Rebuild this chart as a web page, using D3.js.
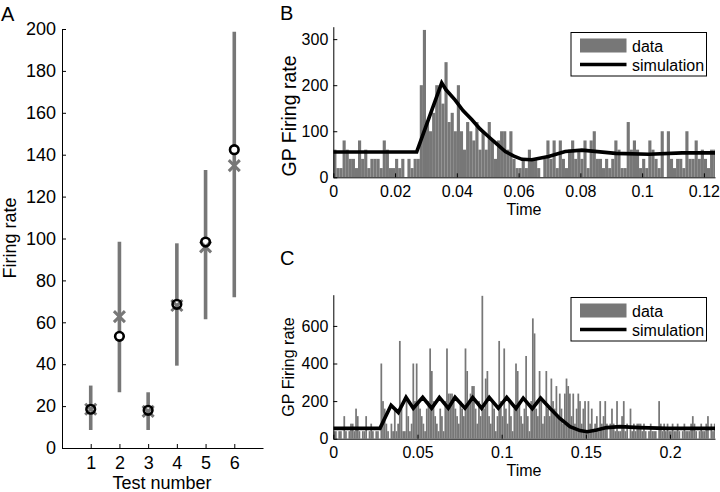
<!DOCTYPE html>
<html><head><meta charset="utf-8">
<script src="https://cdn.jsdelivr.net/npm/d3@7"></script>
<style>
body{margin:0;background:#fff;}
svg text{font-family:"Liberation Sans",Arial,Helvetica,sans-serif;fill:#000;}
</style></head>
<body><svg id="c" width="720" height="492"></svg>
<script>
// ---------- Panel A data ----------
const testNumbers = [1,2,3,4,5,6];
const simCircle = [18.5,53.3,18.0,68.6,98.3,142.4];
const dataCross = [18.5,62.7,17.5,68.0,96.0,134.8];
const errLow = [8.6,26.6,8.6,39.3,61.4,71.9];
const errHigh = [29.8,98.5,26.6,97.7,132.7,198.7];
const ticksAY = [0,20,40,60,80,100,120,140,160,180,200];

// ---------- Panel B data (1 ms bins) ----------
const binWidth = 0.001;
const histB = [60,20,20,80,60,40,40,20,80,40,60,20,40,40,40,20,80,60,20,20,
  40,20,40,0,40,20,40,40,200,320,120,100,140,200,200,160,250,120,140,100,
  200,100,60,120,100,80,120,60,100,60,120,80,40,80,100,100,60,100,40,20,
  20,40,20,60,40,40,20,0,40,80,40,80,20,80,40,20,60,80,40,60,
  40,80,20,80,100,40,40,20,40,20,40,80,60,20,20,120,60,80,60,20,
  40,20,80,60,40,20,100,0,100,40,20,40,40,20,100,40,40,80,40,60,
  40,20,60,60];
const simBt = [0,0.027,0.0351,0.0365,0.0394,0.042,0.0449,0.0475,0.0503,0.053,0.0557,0.0585,0.0611,0.0643,0.0697,0.0751,0.0805,0.0914,0.1022,0.113,0.1236];
const simBv = [55,55,205,190,168,145,125,105,88,72,56,46,39,38,45,56,59,52,50,53,53];
const ticksBX = [0,0.02,0.04,0.06,0.08,0.1,0.12];
const ticksBY = [0,100,200,300];

// ---------- Panel C data (1 ms bins) ----------
const histC = [40,40,0,40,40,0,120,40,0,40,80,80,40,160,120,40,0,40,40,120,
  0,40,80,40,0,40,40,0,400,200,160,80,40,0,80,40,160,40,80,520,
  160,40,40,200,120,40,80,400,200,400,200,160,120,80,40,160,200,480,360,200,
  120,80,40,160,120,40,200,480,240,240,240,200,160,120,80,200,160,120,480,360,
  200,240,280,280,160,80,200,120,760,160,320,360,120,80,200,160,40,120,520,200,
  120,480,160,80,200,120,40,160,400,360,200,120,80,160,440,120,40,200,640,560,
  160,120,360,200,80,120,360,160,120,320,200,160,280,120,240,160,80,240,320,280,
  240,120,240,80,160,240,200,80,160,200,40,200,80,160,40,80,120,40,200,80,
  120,200,80,0,80,160,80,40,200,40,40,120,200,40,80,0,160,40,80,40,
  80,80,80,40,80,40,0,40,80,40,40,40,0,200,80,40,80,40,80,40,
  40,80,40,40,80,40,0,40,80,40,40,40,80,120,80,40,0,40,80,40,
  40,80,120,0,80,40,80];
const simCt = [0,0.0277,0.0343,0.0386,0.0432,0.0475,0.0531,0.0584,0.063,0.0683,0.0723,0.0782,0.0828,0.0881,0.0926,0.098,0.103,0.1085,0.1128,0.1182,0.1231,0.1287,0.1346,0.1406,0.1465,0.1508,0.1564,0.1623,0.1702,0.182,0.198,0.2267];
const simCv = [55,55,178,140,220,162,220,162,220,162,220,162,220,162,220,162,220,160,216,160,216,162,108,64,43,37,46,59,64,59,55,55];
const ticksCX = [0,0.05,0.1,0.15,0.2];
const ticksCY = [0,200,400,600];

const legendLabels = ["data","simulation"];
const GRAY = "#777777";
const svg = d3.select("#c");
const FS = 16;
const FSA = 18;

function fmt(v){ return String(v); }

// ---------- Panel A ----------
(function(){
  const x = d3.scaleLinear().domain([0,7]).range([62,263]);
  const y = d3.scaleLinear().domain([0,200]).range([448,29]);
  const g = svg.append("g");
  const ax = g.append("g").attr("transform","translate(0,448)")
    .call(d3.axisBottom(x).tickValues(testNumbers).tickFormat(d3.format("d")).tickSize(-4).tickSizeOuter(0).tickPadding(8));
  const ay = g.append("g").attr("transform","translate(62,0)")
    .call(d3.axisLeft(y).tickValues(ticksAY).tickFormat(d3.format("d")).tickSize(-4).tickSizeOuter(0).tickPadding(6));
  [ax,ay].forEach(a=>{a.selectAll("text").attr("font-size",FSA).attr("font-family","Liberation Sans, Arial");
    a.select(".domain").attr("stroke","#000"); a.selectAll(".tick line").attr("stroke","#000");});
  g.append("text").attr("x",162).attr("y",489).attr("text-anchor","middle").attr("font-size",FSA).text("Test number");
  g.append("text").attr("transform","translate(15.5,238) rotate(-90)").attr("text-anchor","middle").attr("font-size",FSA).text("Firing rate");
  g.append("text").attr("x",1).attr("y",21).attr("font-size",20).text("A");
  const pts = testNumbers.map((t,i)=>({t,c:simCircle[i],d:dataCross[i],lo:errLow[i],hi:errHigh[i]}));
  g.selectAll(".eb").data(pts).enter().append("line")
    .attr("x1",d=>x(d.t)).attr("x2",d=>x(d.t)).attr("y1",d=>y(d.lo)).attr("y2",d=>y(d.hi))
    .attr("stroke",GRAY).attr("stroke-width",3.6);
  g.selectAll(".cf").data(pts).enter().append("circle")
    .attr("cx",d=>x(d.t)).attr("cy",d=>y(d.c)).attr("r",4.2).attr("fill","#fff");
  const s=5.5;
  pts.forEach(d=>{
    const cx=x(d.t), cy=y(d.d);
    g.append("path").attr("d",`M${cx-s},${cy-s}L${cx+s},${cy+s}M${cx-s},${cy+s}L${cx+s},${cy-s}`)
      .attr("stroke",GRAY).attr("stroke-width",3).attr("fill","none");
  });
  g.selectAll(".cr").data(pts).enter().append("circle")
    .attr("cx",d=>x(d.t)).attr("cy",d=>y(d.c)).attr("r",4.3).attr("fill","none")
    .attr("stroke","#000").attr("stroke-width",2.6);
})();

// ---------- Histogram panel helper ----------
function histPanel(opt){
  const x = d3.scaleLinear().domain(opt.xd).range([333.3,715]);
  const y = d3.scaleLinear().domain(opt.yd).range([opt.y0,opt.y1]);
  const g = svg.append("g");
  const cid = "clip"+opt.letter;
  g.append("clipPath").attr("id",cid).append("rect")
    .attr("x",333.3).attr("y",opt.y1).attr("width",715-333.3).attr("height",opt.y0-opt.y1);
  const pg = g.append("g").attr("clip-path",`url(#${cid})`);
  pg.selectAll("rect.bar").data(opt.hist).enter().append("rect")
    .attr("x",(d,i)=>x(i*binWidth)).attr("width",(d,i)=>x((i+1)*binWidth)-x(i*binWidth)+0.05)
    .attr("y",d=>y(d)).attr("height",d=>y(0)-y(d)).attr("fill",GRAY);
  const line = d3.line().x(d=>x(d[0])).y(d=>y(d[1]));
  pg.append("path").datum(opt.st.map((t,i)=>[t,opt.sv[i]])).attr("d",line)
    .attr("fill","none").attr("stroke","#000").attr("stroke-width",3.6).attr("stroke-linejoin","miter");
  const ax = g.append("g").attr("transform",`translate(0,${opt.y0})`)
    .call(d3.axisBottom(x).tickValues(opt.tx).tickFormat(fmt).tickSize(-4).tickSizeOuter(0).tickPadding(8));
  const ay = g.append("g").attr("transform","translate(333.3,0)")
    .call(d3.axisLeft(y).tickValues(opt.ty).tickFormat(fmt).tickSize(-4).tickSizeOuter(0).tickPadding(5));
  [ax,ay].forEach(a=>{a.selectAll("text").attr("font-size",FS).attr("font-family","Liberation Sans, Arial");
    a.select(".domain").attr("stroke","#000"); a.selectAll(".tick line").attr("stroke","#000");});
  g.append("text").attr("x",524).attr("y",opt.timeY).attr("text-anchor","middle").attr("font-size",FS).text("Time");
  g.append("text").attr("transform",`translate(${opt.ylabX},${opt.ylabY}) rotate(-90)`).attr("text-anchor","middle").attr("font-size",opt.ylabFS).text("GP Firing rate");
  g.append("text").attr("x",280).attr("y",opt.letterY).attr("font-size",20).text(opt.letter);
  // legend
  const L = g.append("g").attr("transform",`translate(571,${opt.legY})`);
  L.append("rect").attr("x",0).attr("y",0).attr("width",135.5).attr("height",43.5)
    .attr("fill","#fff").attr("stroke","#000").attr("stroke-width",1);
  L.append("rect").attr("x",9).attr("y",6).attr("width",46.5).attr("height",14).attr("fill",GRAY);
  L.append("line").attr("x1",9).attr("x2",55.5).attr("y1",32).attr("y2",32).attr("stroke","#000").attr("stroke-width",3.6);
  L.append("text").attr("x",61).attr("y",19).attr("font-size",16).text(legendLabels[0]);
  L.append("text").attr("x",61).attr("y",38).attr("font-size",16).text(legendLabels[1]);
}

histPanel({letter:"B",xd:[0,0.1236],yd:[0,327],y0:177.3,y1:26.7,hist:histB,st:simBt,sv:simBv,
  tx:ticksBX,ty:ticksBY,timeY:215,ylabX:296,ylabY:116,ylabFS:19.5,letterY:20,legY:32.5});
histPanel({letter:"C",xd:[0,0.2267],yd:[0,766],y0:438.7,y1:294.7,hist:histC,st:simCt,sv:simCv,
  tx:ticksCX,ty:ticksCY,timeY:476,ylabX:293.5,ylabY:367,ylabFS:16,letterY:265,legY:297.5});
</script></body></html>
